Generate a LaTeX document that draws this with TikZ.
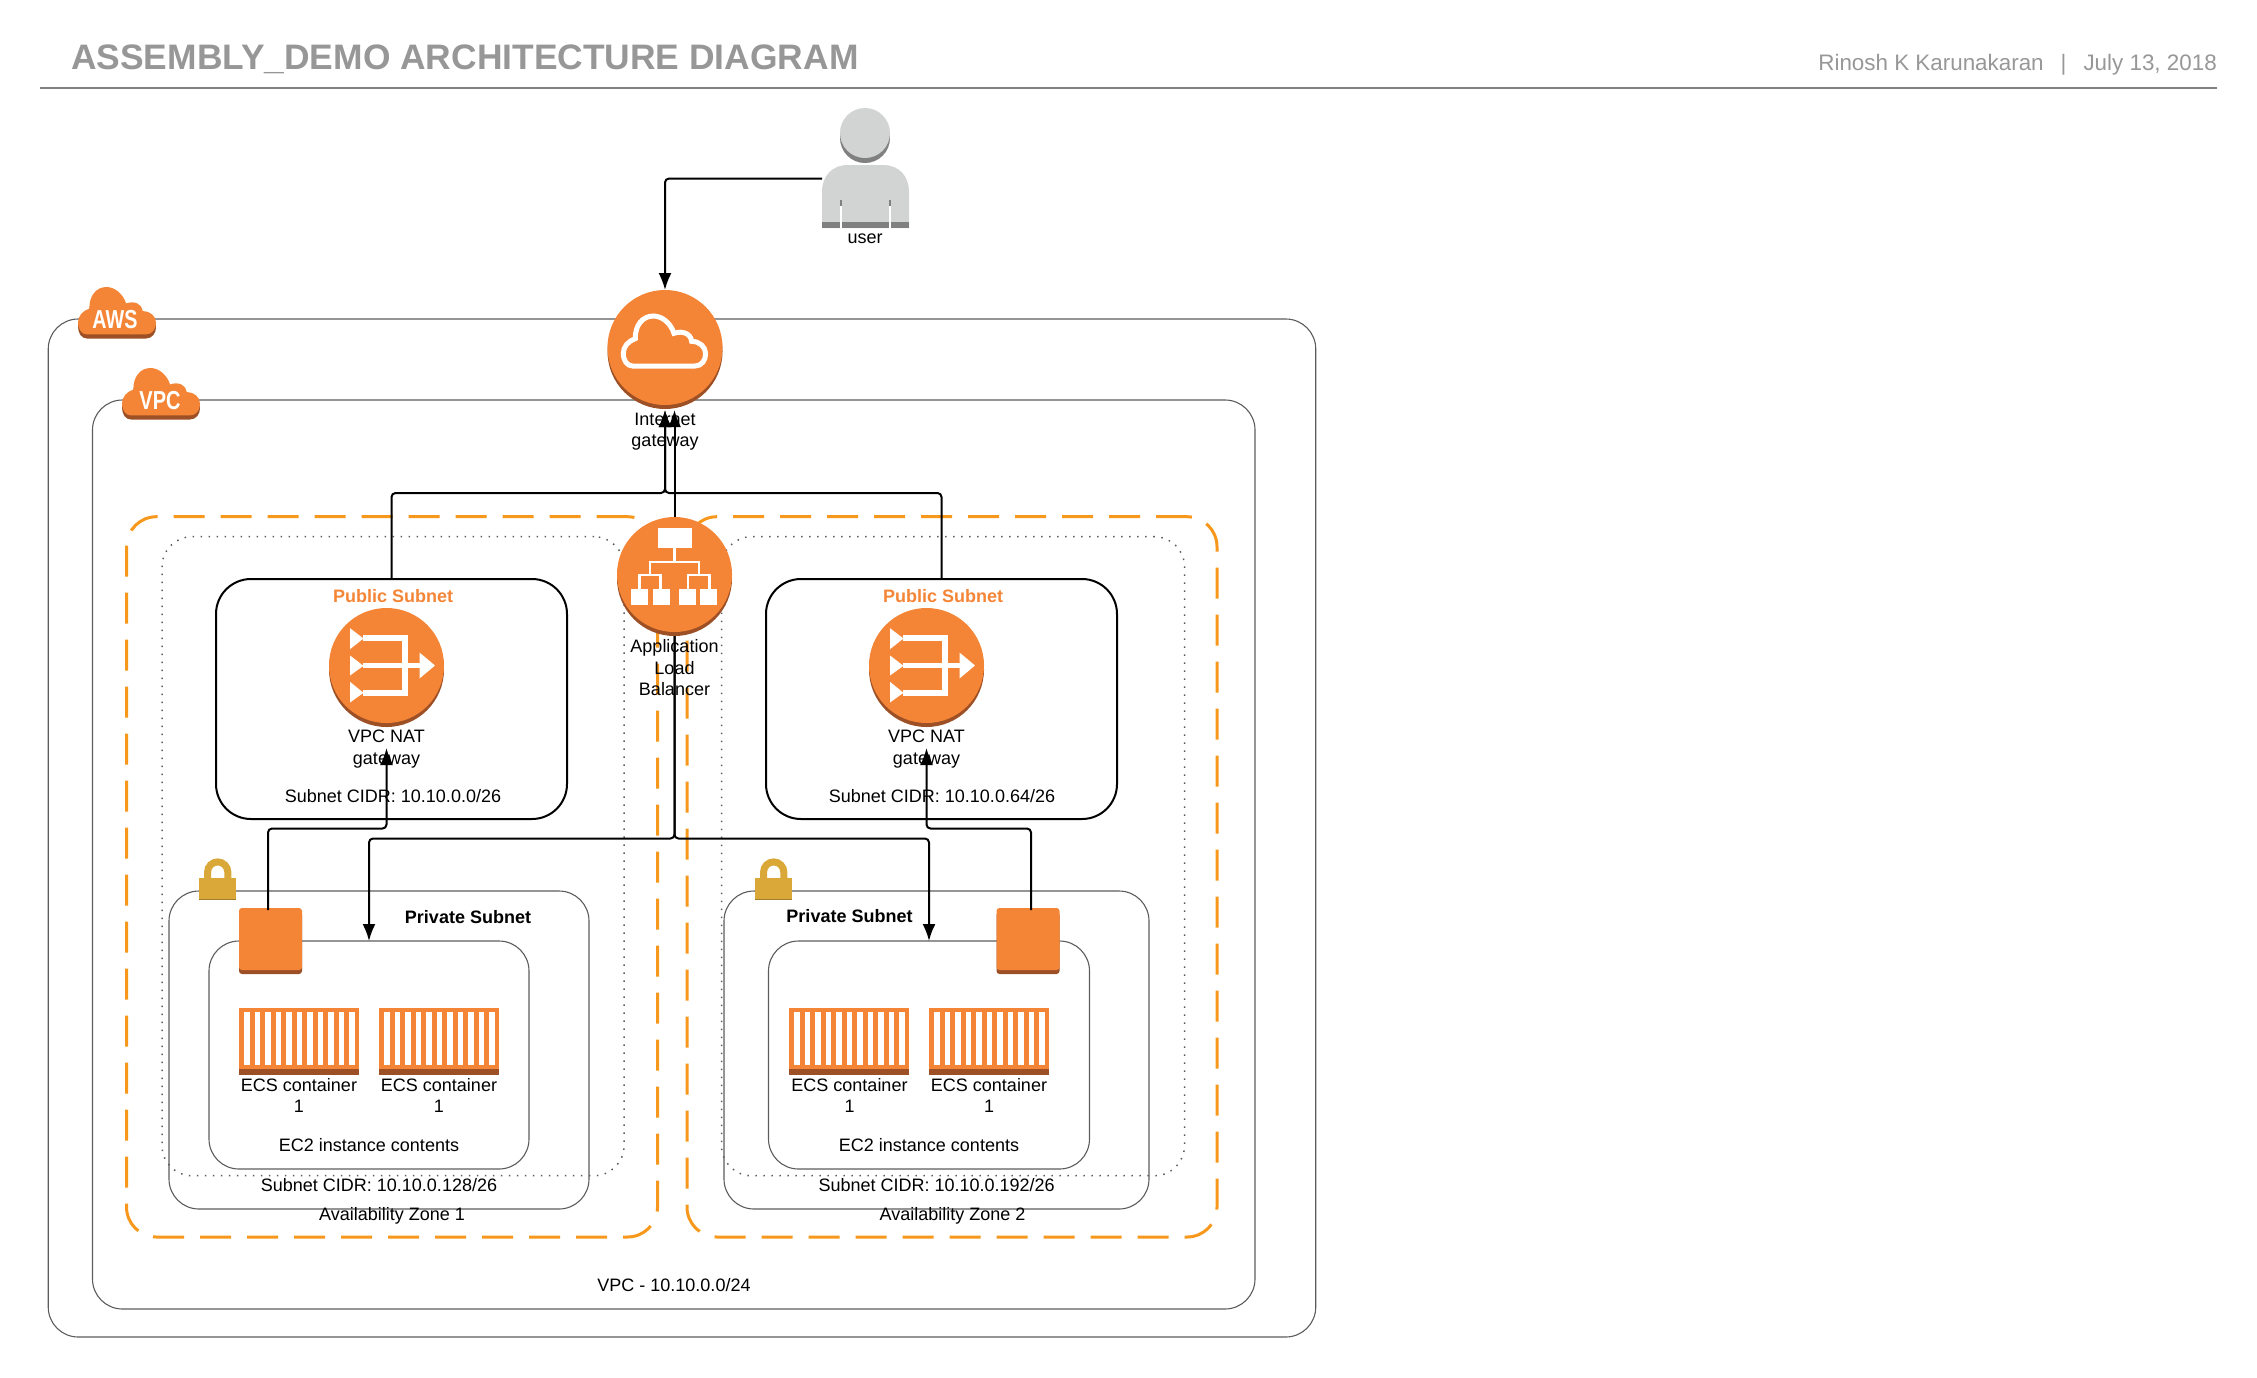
\documentclass[tikz,border=0pt]{standalone}
\usepackage{graphicx}
\usepackage{fontspec}
\setmainfont{Liberation Sans}
\usetikzlibrary{arrows.meta,shadows}
\definecolor{awsorange}{HTML}{F58536}
\definecolor{awsdark}{HTML}{9D5025}
\definecolor{azorange}{HTML}{F7981D}
\definecolor{boxgray}{HTML}{5C5C5C}
\definecolor{usergray}{HTML}{D2D3D3}
\definecolor{userdark}{HTML}{808080}
\definecolor{lockgold}{HTML}{D9A838}
\definecolor{headgray}{HTML}{979797}
\newcommand{\cloudpath}{(28,150) -- (215,150)
    .. controls (235,150) and (247,133) .. (247,113)
    .. controls (247,92) and (228,76) .. (205,76)
    .. controls (203,55) and (180,42) .. (152,52)
    .. controls (142,20) and (115,0) .. (90,0)
    .. controls (58,0) and (35,28) .. (36,68)
    .. controls (15,75) and (0,92) .. (0,112)
    .. controls (0,134) and (12,150) .. (28,150) -- cycle}
\tikzset{
    frame/.style={rectangle,rounded corners=30pt,inner sep=0pt,outer sep=0pt},
    grayframe/.style={frame,draw=boxgray,line width=1.1pt},
    azframe/.style={frame,draw=azorange,line width=3pt,dash pattern=on 31pt off 16pt},
    dotframe/.style={frame,draw=boxgray,line width=1.5pt,dash pattern=on 1.5pt off 6.5pt},
    publicframe/.style={frame,rounded corners=35pt,draw=black,line width=2pt},
    awscircle/.style={circle,fill=awsorange,minimum size=115pt,inner sep=0pt,outer sep=0pt,
        general shadow={fill=awsdark,shadow xshift=0pt,shadow yshift=-4pt}},
    awssquare/.style={rectangle,rounded corners=3pt,fill=awsorange,minimum width=63pt,minimum height=62pt,
        inner sep=0pt,outer sep=0pt,
        general shadow={fill=awsdark,shadow xshift=0pt,shadow yshift=-4pt}},
    lbl/.style={font=\fontsize{18}{21.5}\selectfont,align=center,inner sep=0pt},
    lblbold/.style={lbl,font=\fontsize{18}{21.5}\selectfont\bfseries},
    link/.style={draw=black,line width=2pt,rounded corners=4pt},
    linkto/.style={link,-{Latex[length=17pt,width=13pt]}},
    pics/cloudicon/.style={code={
        \draw[white,line width=5pt] \cloudpath;
    }},
    pics/cloudbadge/.style={code={
        \fill[awsdark,shift={(0,13)}] \cloudpath;
        \fill[awsorange] \cloudpath;
    }},
    pics/naticon/.style={code={
        \fill[white] (-36.5,-37.3) -- (-23,-27) -- (-36.5,-16.3) -- cycle;
        \fill[white] (-36.5,-10) -- (-23,0.3) -- (-36.5,10) -- cycle;
        \fill[white] (-36.5,16.3) -- (-23,27.3) -- (-36.5,37) -- cycle;
        \draw[white,line width=6pt] (-24,-27.3) -- (18.5,-27.3) -- (18.5,27.3) -- (-24,27.3);
        \draw[white,line width=5pt] (-24,0) -- (34,0);
        \fill[white] (33,-13) -- (48.5,0) -- (33,13) -- cycle;
    }},
    pics/albicon/.style={code={
        \fill[white] (-17,-47) rectangle (17,-26.3);
        \draw[white,line width=2.5pt] (0,-26.3) -- (0,-12.3);
        \draw[white,line width=2.5pt] (-24.7,0.7) -- (-24.7,-12.3) -- (24.3,-12.3) -- (24.3,0.7);
        \draw[white,line width=2.5pt] (-35,14) -- (-35,0.7) -- (-14,0.7) -- (-14,14);
        \draw[white,line width=2.5pt] (13.7,14) -- (13.7,0.7) -- (35,0.7) -- (35,14);
        \foreach \bx in {-43.3,-22,4,25.7} {
            \fill[white] (\bx,14) rectangle ++(17,16.7);
        }
    }},
    pics/container/.style={code={
        \fill[awsorange] (0,0) rectangle (120,61);
        \fill[awsdark] (0,61) rectangle (120,67);
        \foreach \i in {0,...,10} {
            \fill[white] (5.3+10.5*\i,4) rectangle ++(5.5,53);
        }
    }},
    pics/lockicon/.style={code={
        \draw[lockgold,line width=7pt] (8.6,21) -- (8.6,14) arc[start angle=180,end angle=360,radius=10.1] -- (28.8,21);
        \fill[lockgold] (0,20) rectangle (37.3,41);
        \fill[lockgold!75!black] (0,41) rectangle (37.3,42);
    }}
}

\begin{document}
\begin{tikzpicture}[x=1pt,y=-1pt]
    \useasboundingbox (0,0) rectangle (2257,1377);
    % header
    \node[anchor=west,inner sep=0pt,text=headgray,font=\fontsize{35.4}{40}\selectfont\bfseries] (title) at (71,59) {ASSEMBLY\_DEMO ARCHITECTURE DIAGRAM};
    \node[anchor=east,inner sep=0pt,text=headgray,font=\fontsize{22.4}{26}\selectfont] (byline) at (2217,65) {Rinosh K Karunakaran\hspace{17pt}|\hspace{17pt}July 13, 2018};
    \draw[userdark,line width=2pt] (40,88) -- (2217,88);
    % outer frames
    \node[grayframe,minimum width=1267.5pt,minimum height=1018pt] (aws) at (682,828) {};
    \node[grayframe,minimum width=1162.5pt,minimum height=909pt] (vpc) at (673.75,854.5) {};
    \node[azframe,minimum width=531pt,minimum height=720.3pt] (aza) at (392,876.85) {};
    \node[azframe,minimum width=530pt,minimum height=720.3pt] (azb) at (952,876.85) {};
    \node[dotframe,minimum width=462pt,minimum height=639pt] (dota) at (393,856.2) {};
    \node[dotframe,minimum width=463pt,minimum height=639pt] (dotb) at (953,856.2) {};
    \node[publicframe,minimum width=351pt,minimum height=240pt] (puba) at (391.5,699) {};
    \node[publicframe,minimum width=351pt,minimum height=240pt] (pubb) at (941.5,699) {};
    \node[grayframe,minimum width=420pt,minimum height=318pt] (priva) at (379,1050) {};
    \node[grayframe,minimum width=425pt,minimum height=318pt] (privb) at (936.5,1050) {};
    \node[grayframe,minimum width=320pt,minimum height=228pt] (ecza) at (369,1055) {};
    \node[grayframe,minimum width=321pt,minimum height=228pt] (eczb) at (929,1055) {};
    % badges
    \pic[scale=.316] at (78,287) {cloudbadge};
    \pic[scale=.316] at (122,368) {cloudbadge};
    \node[inner sep=0pt,text=white,font=\fontsize{26}{26}\selectfont\bfseries] (awstext) at (115,320) {\scalebox{.76}[1]{AWS}};
    \node[inner sep=0pt,text=white,font=\fontsize{26}{26}\selectfont\bfseries] (vpctext) at (160,401) {\scalebox{.77}[1]{VPC}};
    \pic at (199,858) {lockicon};
    \pic at (755,858) {lockicon};
    % user
    \fill[userdark] (865,138) circle (25);
    \fill[usergray] (865,133) circle (25);
    \fill[usergray] (822,228) -- (822,192) .. controls (822,176) and (832,165) .. (848,165) -- (883,165)
        .. controls (899,165) and (909,176) .. (909,192) -- (909,228) -- cycle;
    \fill[userdark] (822,222) rectangle (909,228);
    \fill[userdark] (839.5,200) rectangle (841.5,206);
    \fill[userdark] (889,200) rectangle (891,206);
    \fill[white] (839.5,206) rectangle (841.5,228);
    \fill[white] (889,206) rectangle (891,228);
    \coordinate (userarm) at (822,178.5);
    % gateways
    \node[awscircle] (igw) at (665,347.5) {};
    \node[awscircle] (alb) at (674.5,574.5) {};
    \node[awscircle] (nata) at (386.5,665.5) {};
    \node[awscircle] (natb) at (926.5,665.5) {};
    \pic[scale=.3333] at (623.3,316) {cloudicon};
    \pic at (674.5,574.5) {albicon};
    \pic at (386.5,665.5) {naticon};
    \pic at (926.5,665.5) {naticon};
    % EC2 and containers
    \node[awssquare] (sqa) at (270.5,939) {};
    \node[awssquare] (sqb) at (1028,939) {};
    \pic at (239,1008) {container};
    \pic at (379,1008) {container};
    \pic at (789,1008) {container};
    \pic at (929,1008) {container};
    % labels
    \node[lbl] (userlbl) at (865,238.5) {user};
    \node[lbl] (igwlbl) at (665,431.5) {Internet\\gateway};
    \node[lbl] (alblbl) at (674.5,668) {Application\\Load\\Balancer};
    \node[lblbold,text=awsorange] (pubalbl) at (393,596) {Public Subnet};
    \node[lblbold,text=awsorange] (pubblbl) at (943,596) {Public Subnet};
    \node[lbl] (natalbl) at (386.5,749) {VPC NAT\\gateway};
    \node[lbl] (natblbl) at (926.5,749) {VPC NAT\\gateway};
    \node[lbl] (cidra) at (393,796.5) {Subnet CIDR: 10.10.0.0/26};
    \node[lbl] (cidrb) at (942,796.5) {Subnet CIDR: 10.10.0.64/26};
    \node[lblbold] (priva lbl) at (468,917) {Private Subnet};
    \node[lblbold] (privb lbl) at (849.5,916) {Private Subnet};
    \node[lbl] (ecsa) at (299,1095.5) {ECS container\\1};
    \node[lbl] (ecsb) at (439,1095.5) {ECS container\\1};
    \node[lbl] (ecsc) at (849.5,1095.5) {ECS container\\1};
    \node[lbl] (ecsd) at (989,1095.5) {ECS container\\1};
    \node[lbl] (ecza lbl) at (369,1145.5) {EC2 instance contents};
    \node[lbl] (eczb lbl) at (929,1145.5) {EC2 instance contents};
    \node[lbl] (cidrc) at (379,1185) {Subnet CIDR: 10.10.0.128/26};
    \node[lbl] (cidrd) at (936.7,1185) {Subnet CIDR: 10.10.0.192/26};
    \node[lbl] (zonea) at (392,1215.5) {Availability Zone 1};
    \node[lbl] (zoneb) at (952.5,1215.5) {Availability Zone 2};
    \node[lbl] (vpclbl) at (674,1285) {VPC - 10.10.0.0/24};
    % connectors
    \coordinate (igwin) at (665,410);
    \coordinate (igwinb) at (674.5,410);
    \coordinate (igwbus) at (665,493);
    \coordinate (albbus) at (674.5,838.5);
    \coordinate (natatip) at (386.5,748);
    \coordinate (natbtip) at (926.5,748);
    \coordinate (busa) at (386.5,828.5);
    \coordinate (busb) at (926.5,828.5);
    \draw[linkto] (userarm) -| (igw.north);
    \draw[linkto] (puba.north) |- (igwbus) -- (igwin);
    \draw[linkto] (pubb.north) |- (igwbus) -- (igwin);
    \draw[linkto] (alb.north) -- (igwinb);
    \draw[linkto] ([yshift=-4pt]alb.south) -- (albbus) -| (ecza.north);
    \draw[linkto] ([yshift=-4pt]alb.south) -- (albbus) -| (eczb.north);
    \draw[linkto] ([xshift=-2.5pt,yshift=-2pt]sqa.north) |- (busa) -- (natatip);
    \draw[linkto] ([xshift=3pt,yshift=-2pt]sqb.north) |- (busb) -- (natbtip);
\end{tikzpicture}
\end{document}
